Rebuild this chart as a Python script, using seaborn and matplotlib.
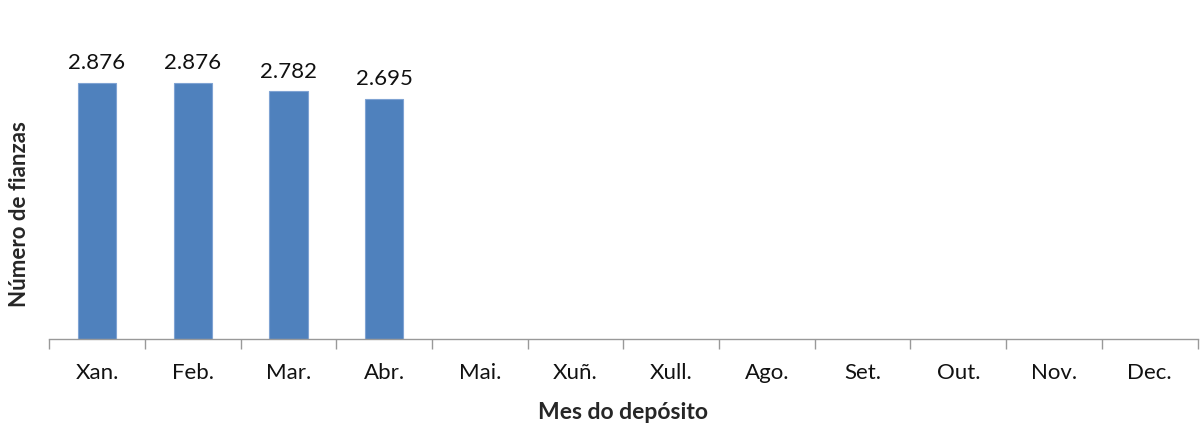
import matplotlib
matplotlib.use('Agg')
import matplotlib.pyplot as plt
import seaborn as sns
import pandas as pd

months = ['Xan.', 'Feb.', 'Mar.', 'Abr.', 'Mai.', 'Xuñ.', 'Xull.', 'Ago.', 'Set.', 'Out.', 'Nov.', 'Dec.']
fianzas = [2876, 2876, 2782, 2695, None, None, None, None, None, None, None, None]
value_labels = ['2.876', '2.876', '2.782', '2.695']

df = pd.DataFrame({'mes': months, 'fianzas': fianzas})

sns.set_style('white')
plt.rcParams['font.family'] = ['Lato', 'DejaVu Sans']

fig = plt.figure(figsize=(12, 4.24), dpi=100)
ax = fig.add_axes([0.041, 0.2, 0.957, 0.735])

sns.barplot(data=df, x='mes', y='fianzas', color='#4F81BD', width=0.4, saturation=1,
            edgecolor='#7FA3D3', linewidth=0.8, ax=ax, order=months)

for i, lab in enumerate(value_labels):
    ax.text(i, fianzas[i] + 110, lab, ha='center', va='bottom', fontsize=16, color='#111111')

ax.set_xlim(-0.5, len(months) - 0.5)
ax.set_ylim(0, 3500)
ax.set_yticks([])
for s in ['top', 'right', 'left']:
    ax.spines[s].set_visible(False)
ax.spines['bottom'].set_color('#999999')
ax.spines['bottom'].set_linewidth(1)

ax.set_xticks(range(len(months)))
ax.set_xticklabels(months, fontsize=16, color='#111111')
ax.set_xticks([i - 0.5 for i in range(len(months) + 1)], minor=True)
ax.tick_params(axis='x', which='major', length=0, pad=17)
ax.tick_params(axis='x', which='minor', length=7, width=1, color='#999999', direction='out', bottom=True)

ax.set_xlabel('Mes do depósito', fontsize=16.5, fontweight='bold', labelpad=14)
ax.set_ylabel('Número de fianzas', fontsize=16, fontweight='bold')
ax.yaxis.set_label_coords(-0.017, 0.4)

fig.savefig('out.png', dpi=100)
